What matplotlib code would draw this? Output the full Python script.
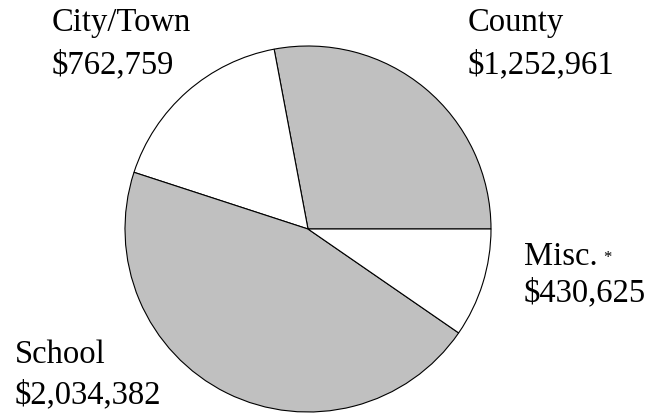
import matplotlib
matplotlib.use("Agg")
import matplotlib.pyplot as plt

# data
labels = ["County", "City/Town", "School", "Misc."]
values = [1252961, 762759, 2034382, 430625]
colors = ["#c0c0c0", "#ffffff", "#c0c0c0", "#ffffff"]

W, H = 646, 415
plt.rcParams['font.family'] = ['Liberation Serif', 'DejaVu Serif']

fig = plt.figure(figsize=(W / 100, H / 100), dpi=100)
ax = fig.add_axes([0, 0, 1, 1])

ax.pie(values, colors=colors, startangle=0, counterclock=True,
       center=(308, H - 229), radius=183,
       wedgeprops=dict(edgecolor="black", linewidth=0.8))
ax.set_xlim(0, W)
ax.set_ylim(0, H)
ax.set_aspect("equal")
ax.axis("off")

fs = 23.5
# label positions: left x, baseline of name, baseline of value (pixels from top)
label_pos = {
    "City/Town": (52, 31, 73),
    "County": (468, 31, 73),
    "Misc.": (524, 265, 301),
    "School": (15, 363, 403),
}
for name, val in zip(labels, values):
    x, y1, y2 = label_pos[name]
    ax.text(x, H - y1, name, fontsize=fs, ha="left", va="baseline")
    ax.text(x, H - y2, f"${val:,}", fontsize=fs, ha="left", va="baseline")

# footnote marker after Misc.
ax.text(603, H - 262, "*", fontsize=12, ha="left", va="baseline")

fig.savefig("out.png", dpi=100)
